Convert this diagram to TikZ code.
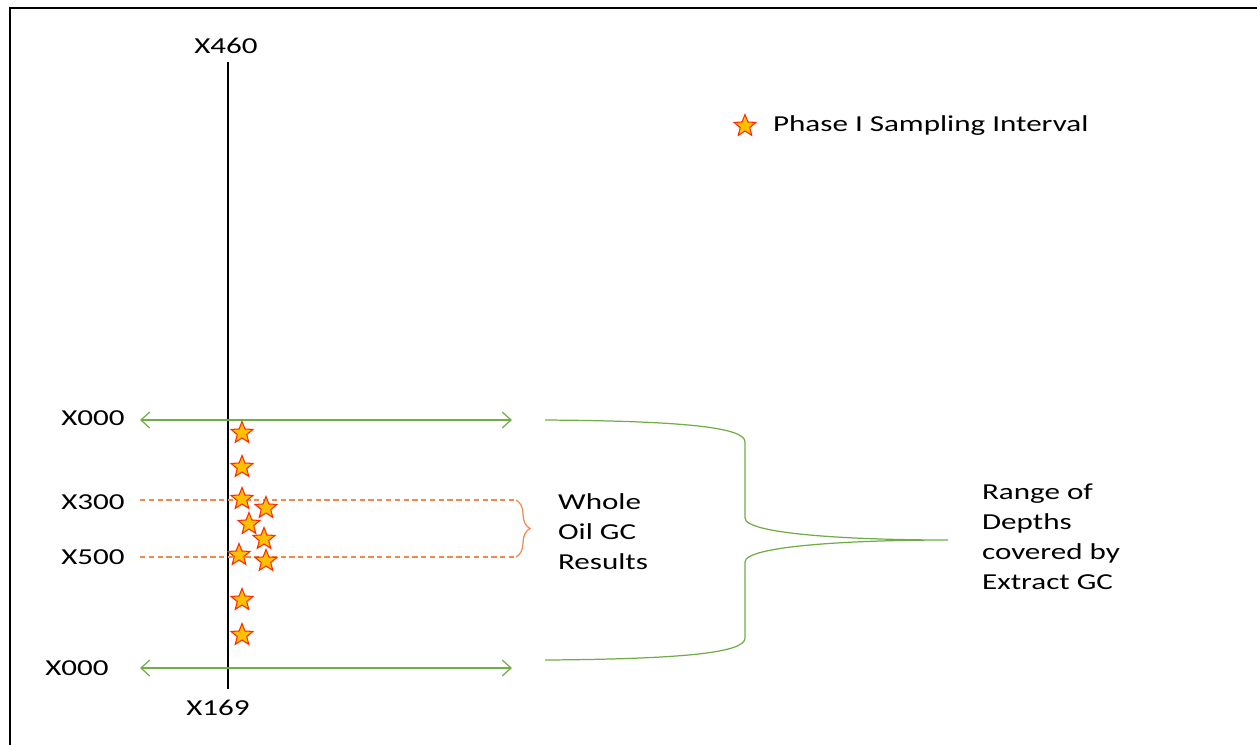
\documentclass[tikz,border=0pt]{standalone}
\usepackage{fontspec}
\setmainfont{Carlito}[FakeStretch=1.36]
\usetikzlibrary{arrows.meta,shapes.geometric,decorations.pathreplacing}
\definecolor{pgreen}{HTML}{70AD47}
\definecolor{porange}{HTML}{F08A4B}
\definecolor{sfill}{HTML}{FFC000}
\definecolor{sline}{HTML}{FF2A00}
\tikzset{
	depth/.style={font=\fontsize{13}{17}\selectfont, inner sep=1pt},
	sample/.style={star, star points=5, star point ratio=2.3, minimum size=0.46cm,
		inner sep=0pt, fill=sfill, draw=sline, line width=0.6pt},
	span/.style={pgreen, line width=0.7pt, {Straight Barb[length=5pt,width=9pt]}-{Straight Barb[length=5pt,width=9pt]}},
	cut/.style={porange, line width=0.7pt, dash pattern=on 3pt off 2pt}
}
\begin{document}
\begin{tikzpicture}[x=0.02cm,y=-0.02cm]
	\useasboundingbox (0,0) rectangle (1257,745);
	% frame
	\draw[line width=1.3pt] (10,745) -- (10,8) -- (1257,8);
	
	% well
	\node[depth] (top) at (226,46) {X460};
	\node[depth] (bot) at (218,708) {X169};
	\draw[line width=1.7pt] (228,62) -- (228,689);
	
	% depth labels
	\node[depth] (d1) at (93,418) {X000};
	\node[depth] (d2) at (93,502) {X300};
	\node[depth] (d3) at (93,557) {X500};
	\node[depth] (d4) at (77,668) {X000};
	
	% extract GC range
	\coordinate (a1l) at (140,420);
	\coordinate (a1r) at (512,420);
	\coordinate (a2l) at (140,668);
	\coordinate (a2r) at (512,668);
	\draw[span] (a1l) -- (a1r);
	\draw[span] (a2l) -- (a2r);
	
	% whole oil GC range
	\coordinate (c1l) at (140,500);
	\coordinate (c1r) at (516,500);
	\coordinate (c2l) at (140,557);
	\coordinate (c2r) at (516,557);
	\draw[cut] (c1l) -- (c1r);
	\draw[cut] (c2l) -- (c2r);
	\draw[porange, line width=0.7pt, decorate, decoration={brace, amplitude=8pt}] (c1r) -- (c2r);
	\node[depth, anchor=west, align=left] (whole) at (556,532) {Whole\\Oil GC\\Results};
	
	% samples
	\node[sample] (s1) at (242,433) {};
	\node[sample] (s2) at (242,467) {};
	\node[sample] (s3) at (242,499) {};
	\node[sample] (s4) at (266,508) {};
	\node[sample] (s5) at (249,524) {};
	\node[sample] (s6) at (264,539) {};
	\node[sample] (s7) at (239,555) {};
	\node[sample] (s8) at (266,561) {};
	\node[sample] (s9) at (242,600) {};
	\node[sample] (s10) at (242,635) {};
	
	% big brace
	\coordinate (gtop) at (545,420);
	\coordinate (gbot) at (545,660);
	\coordinate (gtip) at (948,540);
	\draw[pgreen, line width=0.7pt] (gtop) .. controls (690,421) and (745,428) .. (745,442)
		-- (745,518) .. controls (745,534) and (850,540) .. (gtip)
		.. controls (850,540) and (745,546) .. (745,562)
		-- (745,638) .. controls (745,652) and (690,659) .. (gbot);
	\node[depth, anchor=west, align=left] (range) at (980,537) {Range of\\Depths\\covered by\\Extract GC};
	
	% legend
	\node[sample] (key) at (745,126) {};
	\node[depth, anchor=west] (keytext) at (771,126) {Phase I Sampling Interval};
\end{tikzpicture}
\end{document}
